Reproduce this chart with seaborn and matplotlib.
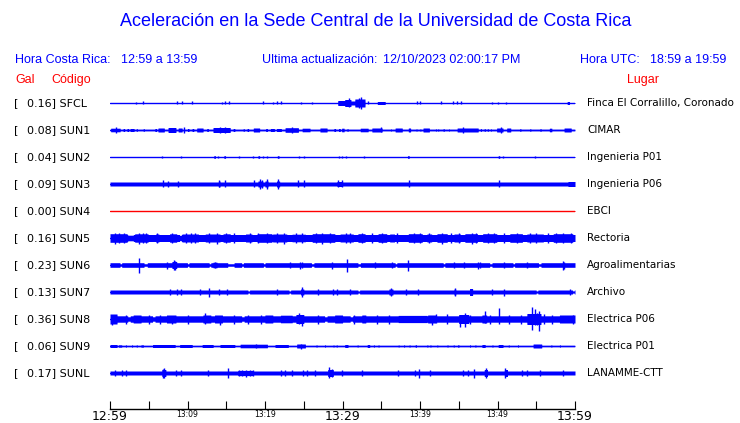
import numpy as np
import pandas as pd
import matplotlib.pyplot as plt
import seaborn as sns

sns.set_theme(style="white")
plt.rcParams['font.family'] = ['DejaVu Sans']

# station list
codes = ["SFCL", "SUN1", "SUN2", "SUN3", "SUN4", "SUN5", "SUN6", "SUN7", "SUN8", "SUN9", "SUNL"]
gal = [0.16, 0.08, 0.04, 0.09, 0.00, 0.16, 0.23, 0.13, 0.36, 0.06, 0.17]
places = ["Finca El Corralillo, Coronado", "CIMAR", "Ingenieria P01", "Ingenieria P06", "EBCI",
          "Rectoria", "Agroalimentarias", "Archivo", "Electrica P06", "Electrica P01", "LANAMME-CTT"]

# background envelope (half amplitude) of each trace
base_amp = [0.5, 0.8, 0.5, 2.0, 0.5, 3.5, 2.3, 2.0, 3.2, 0.7, 2.0]

# envelope segments: (start min, end min, half amplitude)
sfcl_bursts = [(29.4, 30.3, 2.5), (30.3, 31.1, 3.5), (31.1, 31.6, 2.0), (31.6, 32.9, 4.0),
               (34.5, 35.5, 1.5), (59.0, 59.3, 1.5)]
sun1_bursts = [(0.1, 1.3, 1.8), (1.7, 1.9, 1.5), (2.2, 2.4, 1.5), (2.6, 3.1, 1.5), (3.4, 3.5, 1.5),
               (4.3, 4.4, 1.5), (5.8, 6.0, 1.5), (6.2, 7.0, 2.0), (7.5, 8.5, 2.5), (8.8, 9.3, 2.0),
               (10.0, 10.2, 1.5), (10.6, 10.8, 1.5), (11.2, 12.0, 2.0), (12.5, 12.7, 1.5),
               (13.3, 15.5, 2.5), (15.9, 16.1, 1.5), (17.2, 17.3, 1.5), (17.7, 17.9, 1.5),
               (18.5, 19.3, 2.0), (20.1, 20.3, 1.5), (20.7, 21.2, 1.5), (21.5, 22.1, 1.5),
               (22.6, 24.3, 2.3), (24.8, 25.8, 1.8), (27.1, 28.0, 2.0), (28.9, 29.1, 1.5),
               (29.5, 29.7, 1.5), (29.9, 30.2, 1.8), (30.6, 30.7, 1.5), (32.3, 33.3, 1.8),
               (33.8, 35.1, 2.0), (36.2, 36.3, 1.2), (36.8, 37.7, 2.0), (38.5, 38.8, 2.0),
               (39.5, 39.6, 1.2), (40.0, 40.1, 1.2), (40.4, 41.2, 2.0), (42.0, 42.1, 1.2),
               (42.3, 42.4, 1.2), (43.0, 43.1, 1.5), (43.7, 43.8, 1.2), (44.8, 47.5, 2.0),
               (47.8, 47.9, 1.5), (48.3, 48.4, 1.5), (48.7, 48.8, 1.5), (49.1, 49.2, 1.2),
               (49.9, 50.7, 2.0), (51.2, 51.7, 2.0), (52.9, 53.0, 1.5), (54.2, 54.3, 1.5),
               (55.5, 55.6, 1.5), (56.7, 57.0, 1.8), (58.6, 59.5, 2.0)]
sun2_bursts = [(13.4, 13.6, 1.3), (14.7, 14.9, 1.3), (19.1, 19.3, 1.3), (21.6, 21.8, 1.3),
               (38.4, 38.6, 1.3), (50.1, 50.3, 1.3)]
sun3_bursts = [(14.0, 14.2, 3.0), (19.1, 19.7, 3.0), (20.0, 20.4, 3.0), (21.5, 21.9, 3.0),
               (29.3, 30.0, 2.5), (59.1, 60.0, 2.5)]
sun4_bursts = []
sun5_bursts = [(0.0, 2.2, 4.3), (2.3, 3.0, 2.8), (3.2, 4.9, 4.2), (5.9, 6.3, 4.0), (7.7, 8.6, 4.2),
               (9.0, 9.2, 2.5), (9.3, 11.4, 4.0), (12.3, 14.2, 4.0), (14.6, 15.5, 4.2),
               (17.5, 18.3, 4.0), (19.0, 20.9, 4.3), (21.0, 22.8, 4.0), (23.5, 25.2, 3.8),
               (26.1, 29.0, 4.3), (29.7, 31.4, 4.0), (32.0, 32.9, 4.3), (34.6, 35.7, 4.3),
               (36.1, 36.7, 4.0), (38.5, 40.3, 4.3), (40.9, 41.5, 4.0), (42.2, 43.5, 4.3),
               (44.4, 45.2, 4.0), (45.8, 47.4, 4.3), (48.1, 49.9, 4.3), (51.6, 53.2, 4.3),
               (53.8, 55.9, 4.0), (57.2, 59.7, 4.3)]
sun6_bursts = [(1.3, 1.5, 1.2), (4.4, 4.8, 1.2), (8.0, 8.6, 3.5), (10.0, 10.2, 1.2), (12.8, 13.0, 1.2),
               (13.3, 13.8, 2.8), (15.2, 16.0, 1.2), (17.0, 17.2, 1.2), (19.8, 20.0, 1.2),
               (26.0, 26.3, 1.2), (32.0, 32.3, 1.2), (36.8, 37.0, 1.2), (43.0, 43.2, 1.2),
               (49.0, 49.3, 1.2), (52.0, 52.2, 1.2), (55.3, 55.6, 1.2)]
sun7_bursts = [(17.8, 18.0, 1.0), (23.1, 23.3, 1.0), (24.6, 25.0, 3.0), (32.0, 32.2, 1.0),
               (36.0, 36.5, 3.0), (44.4, 44.6, 3.0), (46.4, 46.8, 3.5), (55.0, 55.2, 1.0),
               (59.7, 59.9, 1.0)]
sun8_bursts = [(0.0, 0.9, 5.0), (2.3, 2.6, 2.2), (3.0, 4.0, 4.0), (5.5, 5.8, 2.2), (7.3, 8.5, 4.0),
               (12.0, 13.0, 4.0), (13.5, 14.5, 4.0), (17.0, 17.3, 2.2), (20.0, 21.0, 4.0),
               (22.0, 23.5, 3.8), (24.0, 25.0, 4.5), (27.7, 28.0, 2.2), (29.0, 30.0, 4.0),
               (31.0, 31.3, 2.2), (32.5, 33.0, 4.0), (37.2, 40.9, 3.6), (41.0, 42.0, 4.0),
               (45.0, 46.3, 4.5), (48.0, 48.6, 4.0), (53.8, 55.6, 5.5), (58.0, 60.0, 4.0)]
sun9_bursts = [(0.0, 0.9, 1.5), (1.1, 1.5, 1.2), (2.0, 2.1, 1.2), (2.8, 2.9, 1.2), (3.4, 3.5, 1.2),
               (4.0, 4.3, 1.2), (5.5, 8.4, 1.5), (9.0, 10.6, 1.5), (11.9, 13.3, 1.5), (14.2, 16.1, 1.5),
               (16.8, 20.3, 1.8), (21.3, 23.0, 1.5), (24.1, 25.2, 2.0), (26.6, 26.7, 1.2),
               (27.7, 27.8, 1.2), (28.8, 28.9, 1.2), (29.2, 29.3, 1.2), (30.3, 30.7, 1.5),
               (31.9, 32.0, 1.2), (33.2, 33.5, 1.5), (34.0, 34.1, 1.2), (34.6, 34.7, 1.2),
               (37.2, 37.3, 1.2), (37.9, 38.0, 1.2), (38.6, 38.7, 1.2), (39.4, 39.5, 1.5),
               (40.9, 41.0, 1.2), (41.3, 41.4, 1.2), (42.2, 42.3, 1.2), (43.5, 43.6, 1.2),
               (44.3, 44.4, 1.2), (44.9, 45.0, 1.5), (46.4, 46.5, 1.2), (47.1, 47.2, 1.2),
               (48.0, 48.4, 1.5), (49.3, 49.4, 1.2), (50.1, 50.7, 1.5), (51.4, 51.5, 1.2),
               (52.6, 52.7, 1.2), (54.6, 55.7, 2.0), (56.9, 57.0, 1.2), (58.0, 58.1, 1.2)]
sunl_bursts = [(6.7, 7.2, 3.5), (16.5, 18.5, 2.6), (28.1, 28.8, 3.5), (48.3, 48.7, 3.5), (50.9, 51.3, 3.5)]

# single spikes: (minute, amplitude up, amplitude down)
sfcl_spikes = [(3.3, 1.2, 1.2), (4.3, 1.5, 1.5), (8.7, 1.5, 1.5), (9.3, 1.5, 1.5), (10.6, 1.5, 1.5),
               (14.4, 1.2, 1.2), (14.9, 1.5, 1.5), (15.3, 1.5, 1.5), (19.8, 1.5, 1.5), (21.0, 1.2, 1.2),
               (21.6, 1.5, 1.5), (22.1, 1.5, 1.5), (24.7, 1.2, 1.2), (26.0, 1.2, 1.2), (29.5, 2.0, 2.0),
               (30.8, 4.5, 4.5), (32.1, 5.0, 5.0), (32.4, 6.0, 6.0), (33.3, 1.5, 1.5), (39.6, 1.5, 1.5),
               (40.0, 1.5, 1.5), (42.7, 1.5, 1.5), (44.3, 1.5, 1.5), (44.8, 1.5, 1.5), (45.3, 1.5, 1.5),
               (49.3, 1.0, 1.0), (50.1, 1.2, 1.2), (51.1, 1.0, 1.0)]
sun1_spikes = [(0.8, 3.0, 3.0), (9.5, 3.0, 3.0), (14.2, 3.0, 3.0), (14.8, 2.8, 2.8), (23.5, 3.0, 3.0),
               (35.0, 2.5, 2.5), (45.5, 2.8, 2.8), (50.5, 3.0, 3.0)]
sun2_spikes = [(6.7, 1.3, 1.3), (9.2, 0.9, 0.9), (13.9, 1.3, 1.3), (16.6, 0.9, 0.9), (18.5, 1.3, 1.3),
               (19.7, 1.3, 1.3), (20.2, 1.3, 1.3), (24.4, 1.3, 1.3), (25.0, 1.3, 1.3), (29.5, 1.3, 1.3),
               (29.9, 1.3, 1.3), (30.5, 0.9, 0.9), (32.8, 0.9, 0.9), (50.7, 0.9, 0.9), (54.8, 1.3, 1.3)]
sun3_spikes = [(6.8, 3.5, 3.5), (7.5, 3.0, 3.0), (8.8, 3.0, 3.0), (14.0, 3.5, 3.5), (14.8, 3.5, 3.5),
               (18.6, 3.5, 3.5), (19.3, 5.0, 5.0), (19.6, 4.0, 4.0), (20.2, 5.0, 5.0), (21.7, 5.0, 5.0),
               (24.3, 3.5, 3.5), (25.0, 3.5, 3.5), (29.4, 3.5, 3.5), (29.9, 3.5, 3.5), (38.6, 3.5, 3.5),
               (50.2, 3.5, 3.5)]
sun4_spikes = []
sun5_spikes = [(0.6, 5.5, 5.5), (1.2, 4.8, 4.8), (1.8, 4.8, 4.8), (3.7, 5.5, 5.5), (4.2, 4.8, 4.8),
               (4.7, 4.8, 4.8), (6.1, 4.8, 4.8), (8.0, 5.0, 5.0), (9.8, 4.8, 4.8), (10.5, 4.8, 4.8),
               (11.0, 4.8, 4.8), (12.8, 4.8, 4.8), (13.8, 5.5, 5.5), (15.0, 4.8, 4.8), (16.0, 4.8, 4.8),
               (18.0, 4.8, 4.8), (19.1, 5.0, 5.0), (20.3, 4.8, 4.8), (21.6, 4.8, 4.8), (22.4, 5.5, 5.5),
               (24.0, 4.8, 4.8), (24.8, 4.8, 4.8), (26.6, 4.8, 4.8), (27.3, 5.5, 5.5), (28.4, 4.8, 4.8),
               (30.5, 4.8, 4.8), (31.0, 4.8, 4.8), (32.5, 5.0, 5.0), (33.8, 4.8, 4.8), (35.1, 5.0, 5.0),
               (37.0, 4.8, 4.8), (39.2, 4.8, 4.8), (40.0, 5.0, 5.0), (41.2, 4.8, 4.8), (42.8, 5.5, 5.5),
               (44.0, 4.8, 4.8), (45.0, 4.8, 4.8), (46.7, 5.5, 5.5), (47.2, 4.8, 4.8), (48.8, 5.0, 5.0),
               (49.5, 5.0, 5.0), (50.8, 4.8, 4.8), (52.5, 5.0, 5.0), (54.2, 4.8, 4.8), (55.0, 4.8, 4.8),
               (56.5, 4.8, 4.8), (57.6, 4.8, 4.8), (58.5, 5.0, 5.0), (59.5, 4.8, 4.8)]
sun6_spikes = [(3.8, 7.5, 7.5), (7.3, 3.5, 3.5), (8.2, 5.0, 5.0), (8.4, 4.5, 4.5), (13.5, 3.0, 3.0),
               (23.2, 3.0, 3.0), (24.5, 3.5, 3.5), (24.8, 3.0, 3.0), (28.7, 3.5, 3.5), (30.6, 6.5, 6.5),
               (34.2, 3.0, 3.0), (36.4, 3.0, 3.0), (38.4, 5.5, 5.5), (44.4, 3.0, 3.0), (45.7, 3.0, 3.0),
               (47.5, 3.5, 3.5), (47.7, 3.0, 3.0), (50.9, 3.0, 3.0), (53.8, 3.0, 3.0), (58.4, 4.5, 4.5),
               (58.6, 3.5, 3.5)]
sun7_spikes = [(7.7, 3.0, 3.0), (8.6, 3.0, 3.0), (9.2, 3.0, 3.0), (11.6, 2.8, 2.8), (12.8, 4.5, 4.5),
               (14.0, 3.0, 3.0), (15.1, 3.0, 3.0), (21.5, 2.8, 2.8), (24.8, 5.0, 5.0), (26.8, 3.0, 3.0),
               (28.8, 3.0, 3.0), (29.3, 2.8, 2.8), (31.0, 3.0, 3.0), (36.2, 4.0, 4.0), (38.2, 3.0, 3.0),
               (39.8, 3.0, 3.0), (44.5, 4.0, 4.0), (49.3, 3.0, 3.0), (50.9, 3.5, 3.5), (59.4, 2.8, 2.8)]
sun8_spikes = [(0.3, 4.5, 5.5), (2.0, 4.5, 4.5), (5.0, 4.5, 4.5), (6.5, 4.5, 4.5), (8.0, 3.5, 5.0),
               (10.0, 4.5, 4.5), (12.3, 6.0, 4.5), (14.2, 3.5, 5.5), (16.0, 4.5, 4.5), (17.8, 4.5, 4.5),
               (19.5, 4.5, 4.5), (24.4, 6.5, 5.0), (24.8, 4.5, 6.5), (26.8, 4.5, 4.5), (31.5, 4.5, 4.5),
               (34.5, 4.5, 4.5), (36.0, 4.5, 4.5), (41.5, 3.0, 5.5), (42.0, 5.5, 4.0), (43.5, 5.0, 5.0),
               (45.2, 4.5, 8.0), (45.8, 6.0, 7.5), (46.5, 4.5, 4.5), (48.4, 8.0, 4.0), (49.0, 4.5, 4.5),
               (50.2, 10.7, 5.0), (51.5, 4.5, 4.5), (53.0, 4.5, 4.5), (54.5, 12.0, 11.0),
               (54.8, 10.0, 6.0), (55.1, 6.0, 6.0), (55.4, 8.0, 12.0), (56.0, 5.0, 5.0),
               (57.0, 4.5, 4.5), (59.8, 4.5, 4.5)]
sun9_spikes = [(18.9, 2.3, 2.3), (24.6, 2.5, 2.5)]
sunl_spikes = [(0.6, 3.0, 3.0), (1.5, 3.0, 3.0), (2.0, 3.0, 3.0), (6.8, 4.5, 4.5), (7.0, 5.0, 5.0),
               (8.5, 3.0, 3.0), (9.2, 2.8, 2.8), (12.6, 3.0, 3.0), (15.2, 5.0, 5.0), (16.6, 3.0, 3.0),
               (17.0, 3.0, 3.0), (17.6, 3.5, 3.5), (18.0, 3.0, 3.0), (18.5, 3.0, 3.0), (22.1, 3.0, 3.0),
               (22.6, 2.8, 2.8), (23.5, 2.8, 2.8), (24.9, 2.8, 2.8), (25.4, 2.8, 2.8), (26.4, 3.0, 3.0),
               (28.3, 6.0, 5.0), (28.6, 4.0, 4.0), (29.9, 3.0, 3.0), (32.5, 3.0, 3.0), (37.2, 3.0, 3.0),
               (39.4, 3.0, 3.0), (39.9, 4.5, 4.5), (41.3, 3.0, 3.0), (45.6, 3.0, 3.0), (46.2, 3.0, 3.0),
               (47.0, 4.5, 4.5), (48.5, 5.0, 5.0), (51.0, 5.0, 5.0), (53.2, 2.8, 2.8), (53.8, 2.8, 2.8),
               (55.5, 2.8, 2.8), (58.5, 2.8, 2.8)]

bursts = [sfcl_bursts, sun1_bursts, sun2_bursts, sun3_bursts, sun4_bursts, sun5_bursts,
          sun6_bursts, sun7_bursts, sun8_bursts, sun9_bursts, sunl_bursts]
spikes = [sfcl_spikes, sun1_spikes, sun2_spikes, sun3_spikes, sun4_spikes, sun5_spikes,
          sun6_spikes, sun7_spikes, sun8_spikes, sun9_spikes, sunl_spikes]

tick_minutes = [0, 10, 20, 30, 40, 50, 60]
tick_labels = ["12:59", "13:09", "13:19", "13:29", "13:39", "13:49", "13:59"]
minor_minutes = [5, 15, 25, 35, 45, 55]

BLUE = "#0000ff"
RED = "#ff0000"
W, H = 740, 423


def fx(x):
    return x / W


def fy(y):
    return 1 - y / H


fig = plt.figure(figsize=(7.4, 4.23), dpi=100)
# axes in pixel-like units: y grows downward, 27 px between traces
ax = fig.add_axes([fx(110), fy(409), 465 / W, (409 - 88) / H])
ax.set_xlim(0, 60)
ax.set_ylim(409, 88)

t = np.arange(0, 60.0001, 0.02)
centers = [103 + 27 * i for i in range(len(codes))]
colors = [RED if g == 0 else BLUE for g in gal]

# baseline of each trace
base_df = pd.DataFrame({
    "minute": np.tile([0, 60], len(codes)),
    "y": np.repeat(centers, 2),
    "code": np.repeat(codes, 2),
})
sns.lineplot(data=base_df, x="minute", y="y", hue="code", palette=dict(zip(codes, colors)),
             linewidth=1.0, legend=False, ax=ax, estimator=None)

for i, code in enumerate(codes):
    y0 = centers[i]
    env = np.full_like(t, base_amp[i])
    for t0, t1, a in bursts[i]:
        env[(t >= t0) & (t <= t1)] = a
    ax.fill_between(t, y0 - env, y0 + env, color=colors[i], linewidth=0, antialiased=False)
    if spikes[i]:
        sp = np.array(spikes[i])
        ax.vlines(sp[:, 0], y0 - sp[:, 1], y0 + sp[:, 2], colors=colors[i], linewidth=1.0)

    fig.text(fx(14), fy(y0), "[", fontsize=8, va="center", color="black")
    fig.text(fx(27), fy(y0), f"{gal[i]:.2f}] {code}", fontsize=8, va="center", color="black")
    fig.text(fx(587), fy(y0), places[i], fontsize=7.5, va="center", color="black")

ax.set_xlabel("")
ax.set_ylabel("")
ax.set_yticks([])
for s in ["left", "right", "top"]:
    ax.spines[s].set_visible(False)
ax.spines["bottom"].set_color("black")
ax.spines["bottom"].set_linewidth(1.0)
ax.set_xticks(tick_minutes)
ax.set_xticklabels(tick_labels)
ax.set_xticks(minor_minutes, minor=True)
ax.tick_params(axis="x", which="both", direction="in", length=5.8, width=0.8, color="black",
               bottom=True, pad=0.5)
for lab, m in zip(ax.get_xticklabels(), tick_minutes):
    lab.set_fontsize(9 if m in (0, 30, 60) else 5.5)
    lab.set_color("black")

hdr = dict(fontsize=9, color=BLUE, va="center", family="Liberation Sans")
fig.text(fx(376), fy(22), "Aceleración en la Sede Central de la Universidad de Costa Rica",
         ha="center", va="center", color=BLUE, fontsize=13, family="Liberation Sans")
fig.text(fx(15), fy(60), "Hora Costa Rica:", **hdr)
fig.text(fx(121), fy(60), "12:59 a 13:59", **hdr)
fig.text(fx(262), fy(60), "Ultima actualización:", **hdr)
fig.text(fx(383), fy(60), "12/10/2023 02:00:17 PM", **hdr)
fig.text(fx(580), fy(60), "Hora UTC:", **hdr)
fig.text(fx(650), fy(60), "18:59 a 19:59", **hdr)
red = dict(hdr, color=RED)
fig.text(fx(15), fy(80), "Gal", **red)
fig.text(fx(51), fy(80), "Código", **red)
fig.text(fx(627), fy(80), "Lugar", **red)

fig.savefig("out.png", dpi=100)
